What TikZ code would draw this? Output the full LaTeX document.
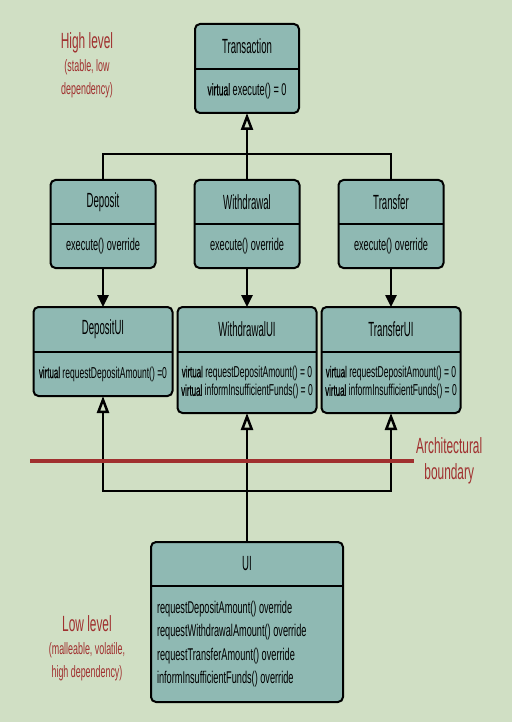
\documentclass[tikz,border=0pt]{standalone}
\usepackage{fontspec}
\setmainfont{Liberation Sans}[FakeStretch=0.54]
\newfontfamily\titlefont{Liberation Sans}[FakeStretch=0.47]
\newfontfamily\virtfont{Liberation Sans}[FakeStretch=0.5, FakeBold=0.6]
\usetikzlibrary{arrows.meta, positioning, backgrounds}
\definecolor{pagebg}{HTML}{D0DFC4}
\definecolor{classfill}{HTML}{8FB9B3}
\definecolor{levelred}{HTML}{A0302F}
\tikzset{
  ctitle/.style={rectangle, inner sep=0pt, outer sep=0pt, align=center,
                 font=\titlefont\fontsize{20.5}{22}\selectfont},
  cbody/.style={rectangle, inner sep=0pt, outer sep=0pt, align=center,
                font=\fontsize{17}{19}\selectfont},
  ifbody/.style={font=\fontsize{15.8}{18.5}\selectfont},
  cframe/.style={draw=black, fill=classfill, line width=2pt, rounded corners=5pt},
  cline/.style={draw=black, line width=2pt},
  lvl/.style={text=levelred, align=center, font=\fontsize{16.5}{23}\selectfont},
  link/.style={line width=2.5pt},
  inherit/.style={-{Triangle[open, length=17pt, width=12pt]}, line width=2.5pt},
  uses/.style={-{Triangle[length=12pt, width=11pt]}, line width=2.5pt},
  boundary/.style={draw=levelred, line width=4.5pt},
}
% class box: [body options] name, centre x, top y, width, title height, body height, title, body
\newcommand{\umlclass}[9][]{%
  \node[ctitle, minimum width=#5, minimum height=#6, anchor=north] (#2) at (#3,#4) {#8};
  \node[cbody, #1, minimum width=#5, minimum height=#7, anchor=north] (#2-b) at (#2.south) {#9};
  \begin{scope}[on background layer]
    \draw[cframe] (#2.north west) rectangle (#2-b.south east);
    \draw[cline] (#2.south west) -- (#2.south east);
  \end{scope}}
\newcommand{\virt}{{\virtfont virtual}}

\begin{document}
\begin{tikzpicture}[x=1pt, y=-1pt]
  \begin{scope}[on background layer]
    \fill[pagebg] (0,0) rectangle (512,722);
  \end{scope}
  \useasboundingbox (0,0) rectangle (512,722);

  % high level
  \umlclass{transaction}{247}{24}{104}{45}{44}{Transaction}{\virt\ execute() = 0}
  \umlclass{deposit}{103}{180}{105}{44}{44}{Deposit}{execute() override}
  \umlclass{withdrawal}{247}{180}{105}{44}{44}{Withdrawal}{execute() override}
  \umlclass{transfer}{391}{180}{105}{44}{44}{Transfer}{execute() override}

  % interfaces
  \umlclass[ifbody]{depositui}{103}{307}{139}{45}{44}{DepositUI}%
    {\virt\ requestDepositAmount() =0}
  \umlclass[ifbody]{withdrawalui}{247}{307}{139}{45}{61}{WithdrawalUI}%
    {\virt\ requestDepositAmount() = 0\\\virt\ informInsufficientFunds() = 0}
  \umlclass[ifbody]{transferui}{391}{307}{139}{45}{61}{TransferUI}%
    {\virt\ requestDepositAmount() = 0\\\virt\ informInsufficientFunds() = 0}

  % low level
  \umlclass{ui}{247}{542}{192}{44}{116}{UI}%
    {\parbox{180pt}{\fontsize{17}{23.5}\selectfont
     requestDepositAmount() override\\
     requestWithdrawalAmount() override\\
     requestTransferAmount() override\\
     informInsufficientFunds() override}}

  \node[lvl] (highlvl) at (87,65) {{\fontsize{22}{23}\selectfont High level}\\(stable, low\\dependency)};
  \node[lvl] (lowlvl) at (87,648) {{\fontsize{22}{23}\selectfont Low level}\\(malleable, volatile,\\high dependency)};

  \coordinate (toptee) at (247,154);
  \coordinate (bottee) at (247,491);
  \coordinate (bstart) at (30,461);

  \draw[link] (deposit.north) |- (toptee) -| (transfer.north);
  \draw[inherit] (withdrawal.north) -- (transaction-b.south);

  \draw[uses] (deposit-b.south) -- (depositui.north);
  \draw[uses] (withdrawal-b.south) -- (withdrawalui.north);
  \draw[uses] (transfer-b.south) -- (transferui.north);

  \draw[inherit] (ui.north) -- (withdrawalui-b.south);
  \draw[inherit] (bottee) -| (depositui-b.south);
  \draw[inherit] (bottee) -| (transferui-b.south);

  \node[lvl, font=\fontsize{22}{26}\selectfont, anchor=west, inner sep=2pt] (archlbl) at (414,461) {Architectural\\boundary};
  \draw[boundary] (bstart) -- (archlbl.west);
\end{tikzpicture}
\end{document}
